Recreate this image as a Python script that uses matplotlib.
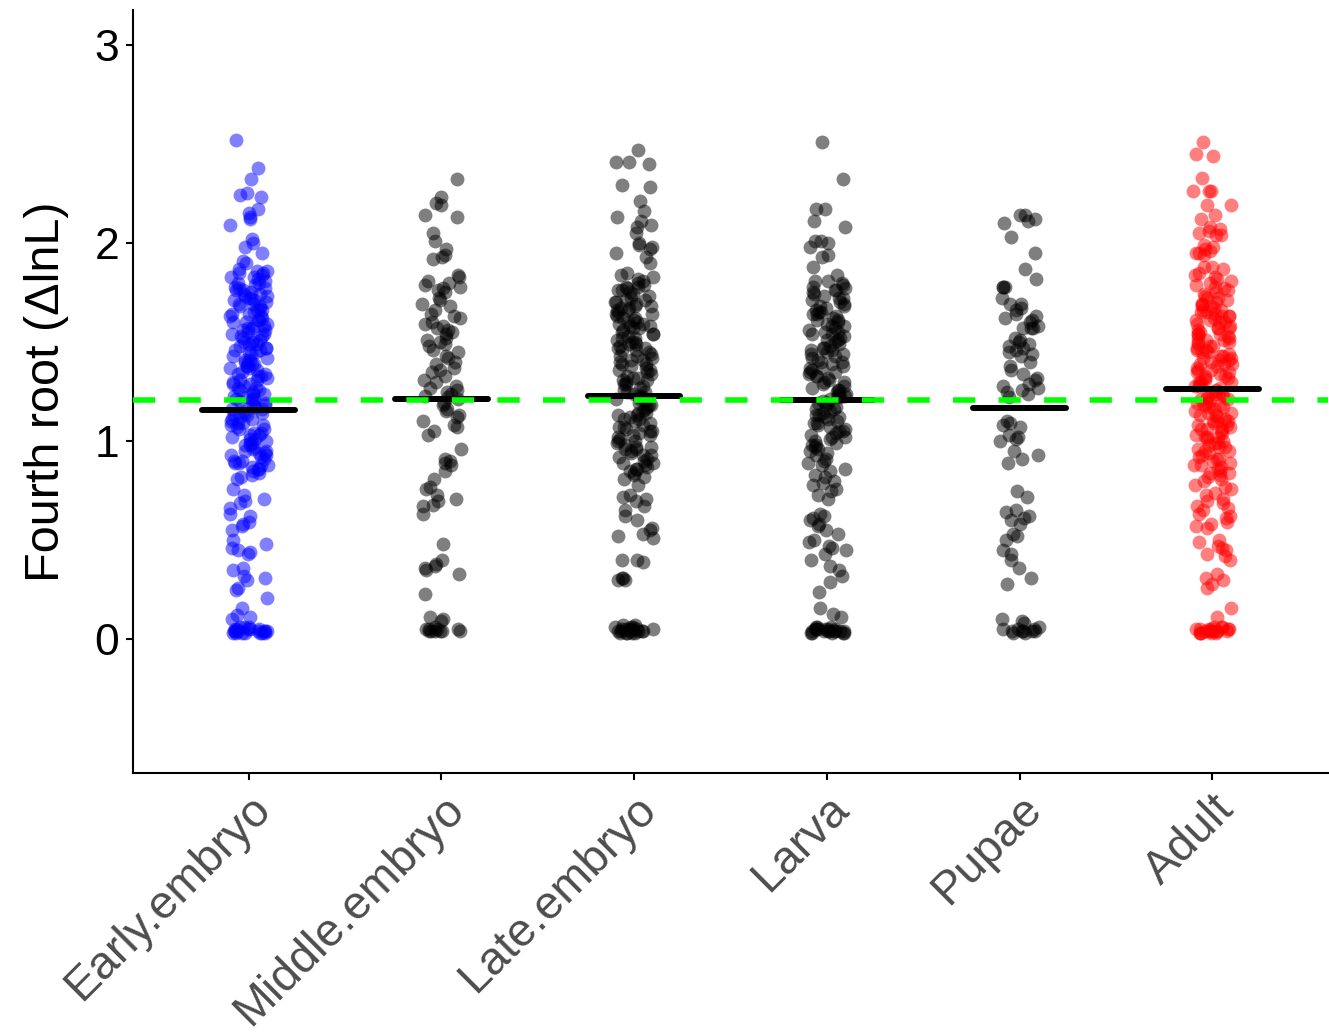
import numpy as np
import matplotlib
matplotlib.use("Agg")
import matplotlib.pyplot as plt

plt.rcParams['font.family'] = ['Liberation Sans', 'DejaVu Sans']

stages = ['Early.embryo', 'Middle.embryo', 'Late.embryo', 'Larva', 'Pupae', 'Adult']
colors = ['#0000FF', '#000000', '#000000', '#000000', '#000000', '#FF0000']

# fourth root of delta lnL, in hundredths
early = [252, 238, 232, 225, 224, 223, 217, 215, 213, 212, 209, 202, 200, 198, 195, 191, 190,
         187, 186, 186, 185, 184, 183, 183, 181, 180, 180, 178, 177, 176, 176, 175, 174, 173, 172,
         171, 171, 170, 169, 168, 167, 166, 165, 164, 164, 163, 161, 160, 160, 159, 158, 157, 156,
         155, 154, 154, 153, 152, 151, 150, 149, 148, 147, 147, 146, 145, 143, 142, 141, 140, 139,
         138, 138, 137, 136, 135, 134, 133, 132, 131, 130, 129, 128, 127, 126, 125, 124, 123, 122,
         121, 121, 120, 119, 118, 117, 116, 115, 114, 113, 112, 111, 110, 109, 108, 107, 106, 104,
         103, 102, 101, 100, 99, 98, 97, 96, 95, 94, 93, 92, 91, 90, 89, 88, 87, 86, 85, 84, 83,
         82, 81, 76, 73, 71, 70, 69, 66, 63, 62, 59, 58, 57, 55, 50, 48, 46, 45, 44, 43, 36, 35,
         32, 31, 30, 26, 25, 21, 16, 12, 11, 10, 6, 6, 5, 5, 5, 5, 4, 4, 4, 4, 4, 4, 3, 3, 3, 3,
         3, 3, 3, 5, 4, 6,
         185, 182, 179, 177, 174, 172, 169, 166, 163, 161, 158, 156, 153, 151, 149, 146, 144, 141,
         139, 137, 134, 131, 129, 126, 124, 121, 118, 116, 113, 111, 108, 106, 103, 101, 98, 95,
         93, 90, 88, 86, 173, 168, 162, 157, 150, 145, 140, 133, 127, 120, 114, 109, 104, 99, 94, 89]
middle = [232, 223, 220, 219, 214, 213, 205, 201, 197, 194, 193, 192, 184, 183, 181, 180, 179,
          178, 177, 176, 175, 172, 171, 169, 168, 166, 164, 163, 162, 160, 159, 158, 157, 156, 155,
          154, 152, 151, 150, 149, 148, 146, 145, 143, 142, 140, 139, 137, 136, 135, 133, 131, 130,
          128, 127, 126, 125, 124, 123, 122, 121, 119, 118, 116, 115, 113, 112, 110, 108, 107, 105,
          103, 96, 91, 90, 89, 88, 85, 81, 77, 76, 73, 71, 70, 68, 67, 63, 48, 40, 38, 37, 36, 35,
          33, 23, 11, 10, 9, 6, 5, 5, 5, 4, 4, 4, 4, 4, 5, 4]
late = [247, 241, 241, 240, 229, 228, 221, 216, 213, 211, 209, 208, 205, 200, 199, 198, 197, 195,
        193, 190, 185, 184, 183, 182, 181, 180, 179, 178, 177, 176, 176, 175, 173, 172, 171, 170,
        170, 169, 168, 167, 166, 166, 165, 164, 163, 162, 162, 161, 160, 159, 158, 158, 157, 156,
        155, 154, 153, 152, 152, 151, 150, 149, 148, 147, 146, 146, 145, 144, 143, 142, 141, 140,
        139, 138, 137, 136, 135, 134, 133, 132, 131, 130, 129, 128, 127, 126, 125, 124, 123, 122,
        121, 120, 119, 118, 117, 116, 115, 114, 113, 112, 111, 110, 109, 108, 107, 106, 105, 104,
        103, 102, 101, 100, 99, 98, 97, 96, 95, 94, 93, 92, 91, 90, 89, 88, 87, 86, 85, 84, 83,
        82, 81, 78, 73, 72, 71, 70, 67, 65, 62, 60, 56, 55, 53, 52, 51, 40, 40, 39, 31, 31, 30,
        30, 7, 7, 6, 6, 6, 5, 5, 5, 5, 5, 4, 4, 4, 4, 4, 3, 3, 3, 3, 3, 4, 5,
        178, 174, 171, 167, 164, 160, 157, 154, 150, 147, 143, 139, 136, 132, 129, 125, 121, 118,
        114, 111, 107, 103, 100, 96, 93, 89, 86, 168, 159, 149, 141, 131, 122, 113, 105, 97]
larva = [251, 232, 217, 217, 211, 208, 201, 201, 200, 198, 194, 193, 188, 184, 181, 181, 180, 179,
         178, 177, 176, 175, 174, 173, 172, 171, 170, 169, 168, 167, 166, 165, 164, 163, 162, 161,
         160, 159, 158, 157, 156, 155, 154, 153, 152, 151, 150, 149, 148, 147, 146, 145, 144, 143,
         142, 141, 140, 139, 138, 137, 136, 135, 134, 133, 132, 131, 130, 129, 128, 127, 126, 125,
         124, 123, 122, 121, 120, 119, 118, 117, 116, 115, 114, 113, 112, 111, 110, 109, 108, 107,
         106, 105, 104, 103, 102, 101, 100, 99, 98, 97, 96, 95, 94, 93, 91, 90, 89, 88, 86, 85,
         83, 82, 80, 79, 78, 76, 75, 73, 71, 63, 62, 61, 60, 58, 57, 55, 53, 50, 49, 47, 46, 45,
         43, 40, 37, 35, 32, 29, 24, 16, 13, 11, 6, 6, 6, 5, 5, 5, 5, 5, 4, 4, 4, 4, 4, 4, 4, 3,
         3, 3, 3, 3, 5, 4,
         176, 172, 168, 165, 161, 158, 154, 151, 147, 144, 140, 137, 133, 130, 126, 123, 119, 116,
         112, 109, 105, 102, 98, 164, 155, 146, 135, 124, 113]
pupae = [214, 214, 212, 211, 210, 203, 195, 187, 182, 178, 178, 178, 172, 169, 169, 167, 166, 164,
         163, 162, 161, 160, 158, 157, 157, 157, 152, 151, 150, 149, 148, 147, 146, 145, 144, 143,
         140, 138, 136, 134, 132, 131, 129, 128, 127, 126, 125, 124, 122, 110, 109, 108, 107, 103,
         102, 101, 100, 95, 93, 91, 89, 75, 72, 65, 64, 62, 61, 60, 58, 53, 52, 50, 45, 43, 40,
         36, 31, 28, 10, 9, 8, 6, 5, 5, 4, 4, 4, 4, 4, 3, 3, 5]
adult = [251, 245, 244, 233, 226, 226, 226, 219, 219, 214, 212, 208, 207, 206, 205, 204, 204, 199,
         198, 197, 196, 195, 195, 194, 188, 188, 187, 185, 184, 183, 182, 181, 180, 179, 178, 177,
         176, 175, 174, 173, 172, 171, 170, 169, 169, 168, 167, 166, 166, 165, 164, 163, 163, 162,
         161, 160, 160, 159, 158, 157, 157, 156, 155, 154, 154, 153, 152, 151, 151, 150, 149, 148,
         148, 147, 146, 145, 145, 144, 143, 142, 142, 141, 140, 139, 139, 138, 137, 136, 136, 135,
         134, 133, 133, 132, 131, 130, 130, 129, 128, 127, 126, 125, 125, 124, 123, 122, 122, 121,
         120, 119, 118, 118, 117, 116, 115, 114, 114, 113, 112, 111, 110, 110, 109, 108, 107, 106,
         106, 105, 104, 103, 102, 102, 101, 100, 99, 98, 97, 96, 95, 94, 93, 92, 91, 90, 89, 88,
         87, 86, 85, 84, 83, 82, 81, 80, 78, 77, 76, 74, 73, 71, 70, 69, 67, 66, 65, 63, 62, 61,
         59, 58, 57, 56, 50, 49, 47, 46, 45, 43, 42, 40, 33, 31, 30, 28, 26, 16, 11, 6, 6, 6, 5,
         5, 5, 5, 5, 4, 4, 4, 4, 4, 4, 3, 3, 3, 3, 3, 5, 4,
         172, 168, 165, 161, 157, 154, 150, 146, 143, 139, 135, 132, 128, 124, 121, 117, 113, 110,
         106, 102, 99, 95, 91, 88, 84, 163, 152, 141, 130, 119, 108, 97]
groups = [early, middle, late, larva, pupae, adult]

means = [1.155, 1.21, 1.225, 1.205, 1.165, 1.265]
overall = 1.205

fig = plt.figure(figsize=(13.29, 10.35), dpi=100)
ax = fig.add_axes([0.1001, 0.2531, 0.8991, 0.7372])

for k, (vals, col) in enumerate(zip(groups, colors)):
    y = np.array(vals) / 100.0
    idx = np.arange(len(y)) + 50 * k
    # deterministic scrambled jitter, width 0.1
    h = np.sin(idx * 12.9898 + 78.233) * 43758.5453
    jit = (h - np.floor(h) - 0.5) * 0.2
    ax.scatter(k + 1 + jit, y, s=100, color=col, alpha=0.5, linewidths=0, zorder=2)

for k, m in enumerate(means):
    ax.plot([k + 1 - 0.24, k + 1 + 0.24], [m, m], color='black', lw=4.3,
            solid_capstyle='round', zorder=3)

ax.axhline(overall, color='#00FF00', lw=4, linestyle=(0, (4, 4.2)), zorder=4)

ax.set_xlim(0.4, 6.6)
ax.set_ylim(-0.675, 3.175)
ax.set_xticks(range(1, 7))
ax.set_xticklabels(stages, rotation=45, ha='right', va='top', rotation_mode='anchor',
                   fontsize=33.5, color='#4D4D4D')
ax.set_yticks([0, 1, 2, 3])
ax.set_yticklabels(['0', '1', '2', '3'], fontsize=32, color='black')
ax.set_ylabel('Fourth root (\u0394lnL)', fontsize=35, labelpad=18)

for side in ['top', 'right']:
    ax.spines[side].set_visible(False)
for side in ['left', 'bottom']:
    ax.spines[side].set_linewidth(1.5)
ax.tick_params(axis='both', length=5, width=1.5, color='black', pad=5)

fig.savefig('out.png', dpi=100)
